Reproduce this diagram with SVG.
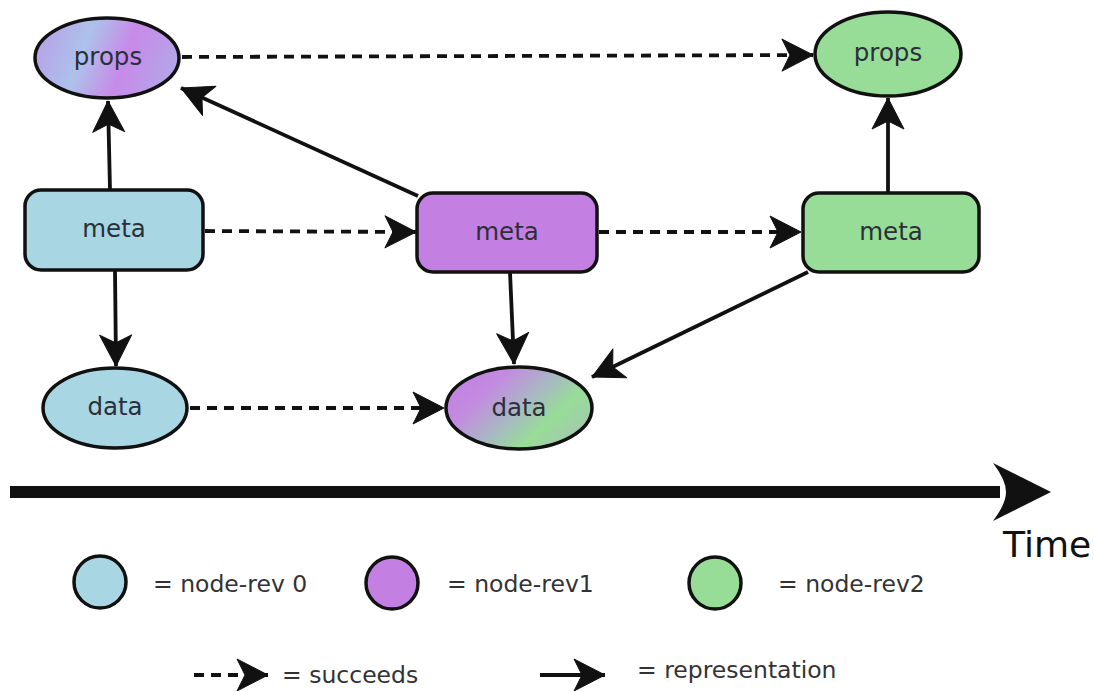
<svg xmlns="http://www.w3.org/2000/svg" width="1094" height="691" viewBox="0 0 1094 691">
  <defs>
    <style>
      .node { stroke: #111; stroke-width: 3.5; }
      .rev0 { fill: #a9d6e3; }
      .rev1 { fill: #c47fe2; }
      .rev2 { fill: #97dd97; }
      .label { font-family: "DejaVu Sans", "Liberation Sans", sans-serif; font-size: 24.5px; fill: #2a2f3a; text-anchor: middle; dominant-baseline: central; }
      .legend { font-family: "DejaVu Sans", "Liberation Sans", sans-serif; font-size: 23.5px; fill: #333; }
      .succ { fill: none; stroke: #111; stroke-width: 3.8; stroke-dasharray: 10 7; marker-end: url(#head); }
      .repr { fill: none; stroke: #111; stroke-width: 3.8; marker-end: url(#head); }
    </style>
    <marker id="head" markerUnits="userSpaceOnUse" viewBox="-34 -18 36 36" markerWidth="36" markerHeight="36" refX="0" refY="0" orient="auto">
      <path d="M 0 0 L -31 -16 L -23 0 L -31 16 Z" fill="#111" stroke="#111" stroke-width="1" stroke-linejoin="round"/>
    </marker>
    <linearGradient id="mixProps" x1="0" y1="0.1" x2="1" y2="0.3">
      <stop offset="0" stop-color="#b99ce8"/>
      <stop offset="0.38" stop-color="#adc2ea"/>
      <stop offset="0.68" stop-color="#c78ae8"/>
      <stop offset="1" stop-color="#b6a2e8"/>
    </linearGradient>
    <linearGradient id="mixData" x1="0" y1="0.2" x2="1" y2="0.8">
      <stop offset="0" stop-color="#c27fe2"/>
      <stop offset="0.25" stop-color="#c38be0"/>
      <stop offset="0.5" stop-color="#a9b7c4"/>
      <stop offset="0.72" stop-color="#97dd97"/>
      <stop offset="1" stop-color="#a8c4b4"/>
    </linearGradient>
  </defs>

  <rect width="1094" height="691" fill="#ffffff"/>

  <!-- connectors -->
  <g id="connectors">
    <line class="succ" x1="182" y1="57" x2="813" y2="55"/>
    <line class="succ" x1="205" y1="231" x2="416" y2="232"/>
    <line class="succ" x1="599" y1="232" x2="801" y2="232"/>
    <line class="succ" x1="190" y1="408" x2="444" y2="408"/>
    <line class="repr" x1="110" y1="190" x2="108" y2="101"/>
    <line class="repr" x1="418" y1="196" x2="181" y2="88"/>
    <line class="repr" x1="888" y1="192" x2="888" y2="98"/>
    <line class="repr" x1="115" y1="270" x2="116" y2="366"/>
    <line class="repr" x1="510" y1="272" x2="514" y2="364"/>
    <line class="repr" x1="808" y1="272" x2="592" y2="377"/>
  </g>

  <!-- revision 0 -->
  <g id="props0">
    <ellipse class="node" cx="107" cy="58" rx="72" ry="40" fill="url(#mixProps)"/>
    <text class="label" x="108" y="56">props</text>
  </g>
  <g id="meta0">
    <rect class="node rev0" x="25" y="190" width="178" height="80" rx="16"/>
    <text class="label" x="114" y="228">meta</text>
  </g>
  <g id="data0">
    <ellipse class="node rev0" cx="115" cy="408" rx="72" ry="40"/>
    <text class="label" x="115" y="406">data</text>
  </g>

  <!-- revision 1 -->
  <g id="meta1">
    <rect class="node rev1" x="417" y="193" width="180" height="79" rx="16"/>
    <text class="label" x="507" y="231">meta</text>
  </g>
  <g id="data1">
    <ellipse class="node" cx="519" cy="408" rx="73" ry="41" fill="url(#mixData)"/>
    <text class="label" x="519" y="407">data</text>
  </g>

  <!-- revision 2 -->
  <g id="props2">
    <ellipse class="node rev2" cx="888" cy="54" rx="73" ry="42"/>
    <text class="label" x="888" y="52">props</text>
  </g>
  <g id="meta2">
    <rect class="node rev2" x="803" y="193" width="176" height="79" rx="16"/>
    <text class="label" x="891" y="231">meta</text>
  </g>

  <!-- time axis -->
  <g id="time">
    <rect x="10" y="486" width="990" height="12" fill="#111"/>
    <path d="M 1051 492 L 993 463 Q 1006 480 1006 492 Q 1006 504 993 521 Z" fill="#111"/>
    <text x="1003" y="557" font-family="DejaVu Sans, Liberation Sans, sans-serif" font-size="36" fill="#111">Time</text>
  </g>

  <!-- legend -->
  <g id="legend">
    <circle class="node rev0" cx="100" cy="582" r="26"/>
    <text class="legend" x="153" y="592">= node-rev 0</text>
    <circle class="node rev1" cx="392" cy="583" r="26"/>
    <text class="legend" x="447" y="592">= node-rev1</text>
    <circle class="node rev2" cx="715" cy="583" r="26"/>
    <text class="legend" x="778" y="592">= node-rev2</text>

    <line class="succ" x1="194" y1="675" x2="268" y2="675" stroke-dasharray="8 6"/>
    <text class="legend" x="282" y="683">= succeeds</text>
    <line class="repr" x1="540" y1="675" x2="605" y2="675"/>
    <text class="legend" x="637" y="678">= representation</text>
  </g>
</svg>
